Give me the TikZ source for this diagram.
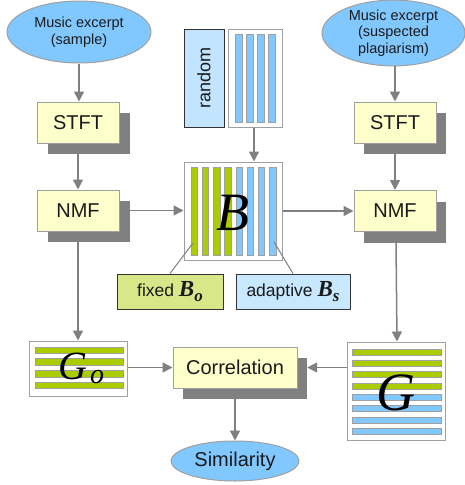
\documentclass[tikz,border=0pt]{standalone}
\usepackage{fontspec}
\setmainfont{Liberation Sans}
\newfontfamily\tms{Liberation Serif}
\usetikzlibrary{shapes.geometric,arrows.meta}
\definecolor{ellfill}{HTML}{80C8FF}
\definecolor{yel}{HTML}{FFFFCC}
\definecolor{grn}{HTML}{AACC00}
\definecolor{blu}{HTML}{80C8FF}
\definecolor{randfill}{HTML}{C2E4FF}
\definecolor{fixfill}{HTML}{D8E888}
\definecolor{adafill}{HTML}{C8E8FF}
\definecolor{shd}{HTML}{808080}
\definecolor{bord}{HTML}{A0A0A0}
\definecolor{txt}{HTML}{1A1A1A}
\tikzset{
  ell/.style={ellipse, draw=bord, line width=1pt, fill=ellfill, inner sep=0pt, align=center, text=txt},
  proc/.style={rectangle, draw=bord, line width=1pt, fill=yel, inner sep=0pt, text=txt, font=\fontsize{20}{20}\selectfont},
  shadowbox/.style={rectangle, fill=shd, inner sep=0pt},
  mat/.style={rectangle, draw=bord, line width=1pt, fill=white, inner sep=0pt},
  bar/.style={draw=bord, line width=0.6pt},
  lab/.style={rectangle, draw=black!80, line width=1pt, inner sep=0pt, text=txt, font=\fontsize{17.5}{17.5}\selectfont},
  arr/.style={draw=shd, line width=1.5pt, -{Triangle[length=10pt,width=10pt]}},
  ln/.style={draw=shd, line width=1pt}
}
\begin{document}
\begin{tikzpicture}[x=1pt,y=-1pt]
\useasboundingbox (0,0) rectangle (465,485);
% ellipses
\node[ell, minimum width=144pt, minimum height=62pt, font=\fontsize{14.5}{16.5}\selectfont] (ell1) at (79,32) {Music excerpt\\(sample)};
\node[ell, minimum width=143pt, minimum height=62pt, font=\fontsize{14.5}{16.5}\selectfont] (ell2) at (393.5,33) {Music excerpt\\(suspected\\plagiarism)};
% shadows
\node[shadowbox, minimum width=82pt, minimum height=41pt] (stft1s) at (89,133.5) {};
\node[shadowbox, minimum width=82pt, minimum height=41pt] (nmf1s) at (89,221.5) {};
\node[shadowbox, minimum width=82pt, minimum height=41pt] (stft2s) at (405,133.5) {};
\node[shadowbox, minimum width=82pt, minimum height=41pt] (nmf2s) at (405,222) {};
\node[shadowbox, minimum width=124pt, minimum height=41pt] (corrs) at (245,378.5) {};
% process boxes
\node[proc, minimum width=82pt, minimum height=41pt] (stft1) at (78,122.5) {STFT};
\node[proc, minimum width=82pt, minimum height=41pt] (nmf1) at (78,210.5) {NMF};
\node[proc, minimum width=82pt, minimum height=41pt] (stft2) at (395,122.5) {STFT};
\node[proc, minimum width=82pt, minimum height=41pt] (nmf2) at (395,211) {NMF};
\node[proc, minimum width=124pt, minimum height=41pt] (corr) at (235,367.5) {Correlation};
% random
\node[rectangle, draw=black!80, line width=1pt, fill=randfill, minimum width=40pt, minimum height=98pt, inner sep=0pt] (rand) at (204,78) {};
\node[rotate=90, text=txt, font=\fontsize{18}{18}\selectfont] (randtxt) at (rand.center) {random};
\node[mat, minimum width=54pt, minimum height=98pt] (rmat) at (255,78) {};
\foreach \xx in {235,246,257,268} {
  \fill[blu] (\xx,34) rectangle ++(7,88);
  \draw[bar] (\xx,34) rectangle ++(7,88);
}
% B matrix
\node[mat, minimum width=98pt, minimum height=98pt] (bmat) at (233,211) {};
\foreach \i in {0,1,2,3} {
  \filldraw[bar, fill=grn] (191+\i*11.2,167) rectangle ++(6.5,88);
}
\foreach \i in {4,5,6,7} {
  \filldraw[bar, fill=blu] (191+\i*11.2,167) rectangle ++(6.5,88);
}
\node[text=black, font=\fontsize{54}{54}\selectfont\tms\itshape] (btxt) at (233,213) {B};
\coordinate (bfix) at (193,243);
\coordinate (bada) at (274,242);
% labels
\node[lab, fill=fixfill, minimum width=106pt, minimum height=35pt] (fixed) at (170,291.5) {fixed {\fontsize{23}{23}\selectfont\tms\bfseries\itshape B}\raisebox{-5pt}{\fontsize{17}{17}\selectfont\tms\bfseries\itshape o}};
\node[lab, fill=adafill, minimum width=114pt, minimum height=35pt] (adapt) at (293,291.5) {adaptive {\fontsize{23}{23}\selectfont\tms\bfseries\itshape B}\raisebox{-5pt}{\fontsize{17}{17}\selectfont\tms\bfseries\itshape s}};
% Go matrix
\node[mat, minimum width=98pt, minimum height=55pt] (go) at (78,368.5) {};
\foreach \i in {0,1,2,3} {
  \filldraw[bar, fill=grn] (35,347+\i*11.7) rectangle (123,353.5+\i*11.7);
}
\node[text=black, font=\fontsize{40}{40}\selectfont\tms\itshape] (gotxt) at (73,366) {G};
\node[text=black, font=\fontsize{28}{28}\selectfont\tms\itshape] (gosub) at (97,377) {o};
% G matrix
\node[mat, minimum width=98pt, minimum height=98pt] (gmat) at (396,391) {};
\foreach \i in {0,1,2,3} {
  \filldraw[bar, fill=grn] (352,349+\i*11.3) rectangle (441,355+\i*11.3);
}
\foreach \i in {4,5,6,7} {
  \filldraw[bar, fill=blu] (352,349+\i*11.3) rectangle (441,355+\i*11.3);
}
\node[text=black, font=\fontsize{54}{54}\selectfont\tms\itshape] (gtxt) at (396,393) {G};
% similarity
\node[ell, minimum width=128pt, minimum height=40pt, font=\fontsize{20}{20}\selectfont] (sim) at (235,461) {Similarity};
% arrows
\draw[arr] (ell1.south) -- (ell1.south |- stft1.north);
\draw[arr] (stft1.center |- stft1s.south) -- (nmf1.north);
\draw[arr] (nmf1.center |- nmf1s.south) -- (go.north);
\draw[arr] (nmf1s.east |- nmf1.center) -- (bmat.west |- nmf1.center);
\draw[arr] (bmat.east) -- (bmat.east -| nmf2.west);
\draw[arr] ([xshift=-1pt]rmat.south) -- ([xshift=-1pt]rmat.south |- bmat.north);
\draw[arr] (ell2.south -| stft2.center) -- (stft2.north);
\draw[arr] (stft2.center |- stft2s.south) -- (nmf2.north);
\draw[arr] ([xshift=1pt]nmf2.center |- nmf2s.south) -- ([xshift=1pt]gmat.north);
\draw[arr] (go.east |- corr.center) -- (corr.west);
\draw[arr] (gmat.west |- corr.center) -- (corrs.east |- corr.center);
\draw[arr] (corr.center |- corrs.south) -- (sim.north);
\draw[ln] (fixed.north) -- (bfix);
\draw[ln] (adapt.north) -- (bada);
\end{tikzpicture}
\end{document}
